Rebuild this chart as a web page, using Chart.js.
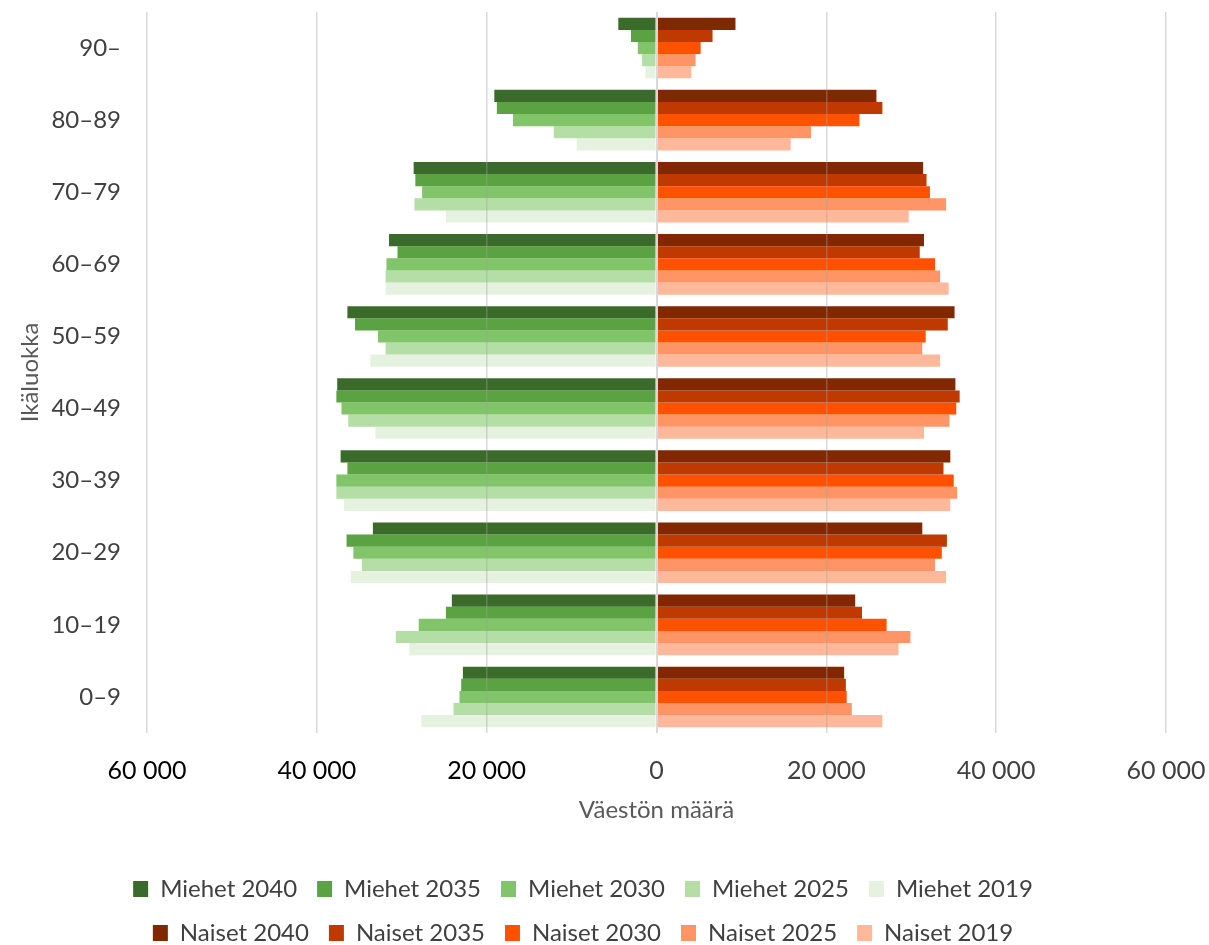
<!DOCTYPE html>
<html lang="fi">
<head>
<meta charset="utf-8">
<title>Väestö ikäluokittain</title>
<script src="https://cdn.jsdelivr.net/npm/chart.js@4.4.0/dist/chart.umd.min.js"></script>
<style>
    html, body { margin: 0; padding: 0; background: #fff; }
    #wrap { width: 1209px; height: 945px; }
</style>
</head>
<body>
<div id="wrap"><canvas id="pyramidChart" width="1209" height="945"></canvas></div>
<script>
// Ikäluokat ylhäältä alas
const ikaluokat = ['90–', '80–89', '70–79', '60–69', '50–59', '40–49', '30–39', '20–29', '10–19', '0–9'];

// Miehet (piirretään vasemmalle)
const miehet2040 = [4500, 19100, 28600, 31500, 36400, 37600, 37200, 33400, 24100, 22800];
const miehet2035 = [3000, 18800, 28400, 30500, 35500, 37700, 36400, 36500, 24800, 23000];
const miehet2030 = [2200, 16900, 27600, 31800, 32800, 37100, 37700, 35700, 28000, 23200];
const miehet2025 = [1700, 12100, 28500, 31900, 31900, 36300, 37700, 34700, 30700, 23900];
const miehet2019 = [1300, 9400, 24800, 31900, 33700, 33100, 36800, 36000, 29100, 27700];

// Naiset (oikealle)
const naiset2040 = [9300, 25900, 31400, 31500, 35100, 35200, 34600, 31300, 23400, 22100];
const naiset2035 = [6600, 26600, 31800, 31000, 34300, 35700, 33800, 34200, 24200, 22300];
const naiset2030 = [5200, 23900, 32200, 32800, 31700, 35300, 35000, 33600, 27100, 22400];
const naiset2025 = [4600, 18200, 34100, 33400, 31300, 34500, 35400, 32800, 29900, 23000];
const naiset2019 = [4100, 15800, 29700, 34400, 33400, 31500, 34600, 34100, 28500, 26600];

const vuodet = ['2040', '2035', '2030', '2025', '2019'];
const miehetSarjat = [miehet2040, miehet2035, miehet2030, miehet2025, miehet2019];
const naisetSarjat = [naiset2040, naiset2035, naiset2030, naiset2025, naiset2019];
const miehetVarit = ['#3b6b2a', '#5aa242', '#81c46a', '#b4dea6', '#e5f2e0'];
const naisetVarit = ['#822800', '#c03a00', '#ff5100', '#ff9466', '#ffb899'];

function muotoile(v) {
    return String(Math.abs(v)).replace(/\B(?=(\d{3})+(?!\d))/g, ' ');
}

const datasets = [];
vuodet.forEach((vuosi, i) => {
    datasets.push({
        label: 'Miehet ' + vuosi,
        data: miehetSarjat[i].map(v => -v),
        backgroundColor: miehetVarit[i],
        stack: vuosi
    });
});
vuodet.forEach((vuosi, i) => {
    datasets.push({
        label: 'Naiset ' + vuosi,
        data: naisetSarjat[i],
        backgroundColor: naisetVarit[i],
        stack: vuosi
    });
});

// Legenda kahdelle riville, ilman ylimääräistä alareunaa
const legendRows = {
    id: 'legendRows',
    beforeLayout(chart) {
        const legend = chart.legend;
        if (!legend || legend._rowsPatched) return;
        legend._rowsPatched = true;
        const fit = legend.fit;
        legend.fit = function () {
            const full = this.maxWidth;
            this.maxWidth = 1000;
            fit.call(this);
            this.maxWidth = full;
            this.width = full;
            this.height -= 10;
        };
    }
};

Chart.defaults.font.family = 'Lato, "Open Sans", sans-serif';
Chart.defaults.color = '#404040';

const ctx = document.getElementById('pyramidChart').getContext('2d');
new Chart(ctx, {
    type: 'bar',
    data: {
        labels: ikaluokat,
        datasets: datasets
    },
    plugins: [legendRows],
    options: {
        responsive: false,
        animation: false,
        indexAxis: 'y',
        datasets: {
            bar: {
                categoryPercentage: 0.84,
                barPercentage: 1,
                borderWidth: 0
            }
        },
        layout: {
            padding: { top: 12, right: 43, left: 0, bottom: 0 }
        },
        scales: {
            x: {
                stacked: true,
                min: -60000,
                max: 60000,
                border: { display: false },
                grid: {
                    z: 1,
                    drawTicks: false,
                    color: c => c.tick && c.tick.value === 0 ? '#d9d9d9' : 'rgba(160, 160, 160, 0.4)',
                    lineWidth: c => c.tick && c.tick.value === 0 ? 2 : 1.5
                },
                ticks: {
                    stepSize: 20000,
                    padding: 23,
                    maxRotation: 0,
                    font: { size: 25 },
                    color: c => c.tick && c.tick.value < 0 ? '#000000' : '#404040',
                    callback: v => muotoile(v)
                },
                title: {
                    display: true,
                    text: 'Väestön määrä',
                    color: '#595959',
                    font: { size: 24 },
                    padding: { top: 11, bottom: 32 }
                },
                afterFit(scale) {
                    scale.height = 124;
                    scale.paddingLeft = 0;
                    scale.paddingRight = 0;
                }
            },
            y: {
                stacked: true,
                border: { display: false },
                grid: { display: false, drawTicks: false },
                ticks: {
                    padding: 26,
                    font: { size: 24 },
                    color: '#404040'
                },
                title: {
                    display: true,
                    text: 'Ikäluokka',
                    color: '#595959',
                    font: { size: 24 },
                    padding: { top: 16, bottom: 8 }
                },
                afterFit(scale) {
                    scale.width = 147;
                    scale.paddingTop = 0;
                    scale.paddingBottom = 0;
                }
            }
        },
        plugins: {
            legend: {
                position: 'bottom',
                labels: {
                    boxWidth: 15,
                    boxHeight: 16,
                    padding: 20,
                    color: '#404040',
                    font: { size: 24 }
                }
            },
            tooltip: {
                callbacks: {
                    label: item => item.dataset.label + ': ' + muotoile(item.raw)
                }
            }
        }
    }
});
</script>
</body>
</html>
